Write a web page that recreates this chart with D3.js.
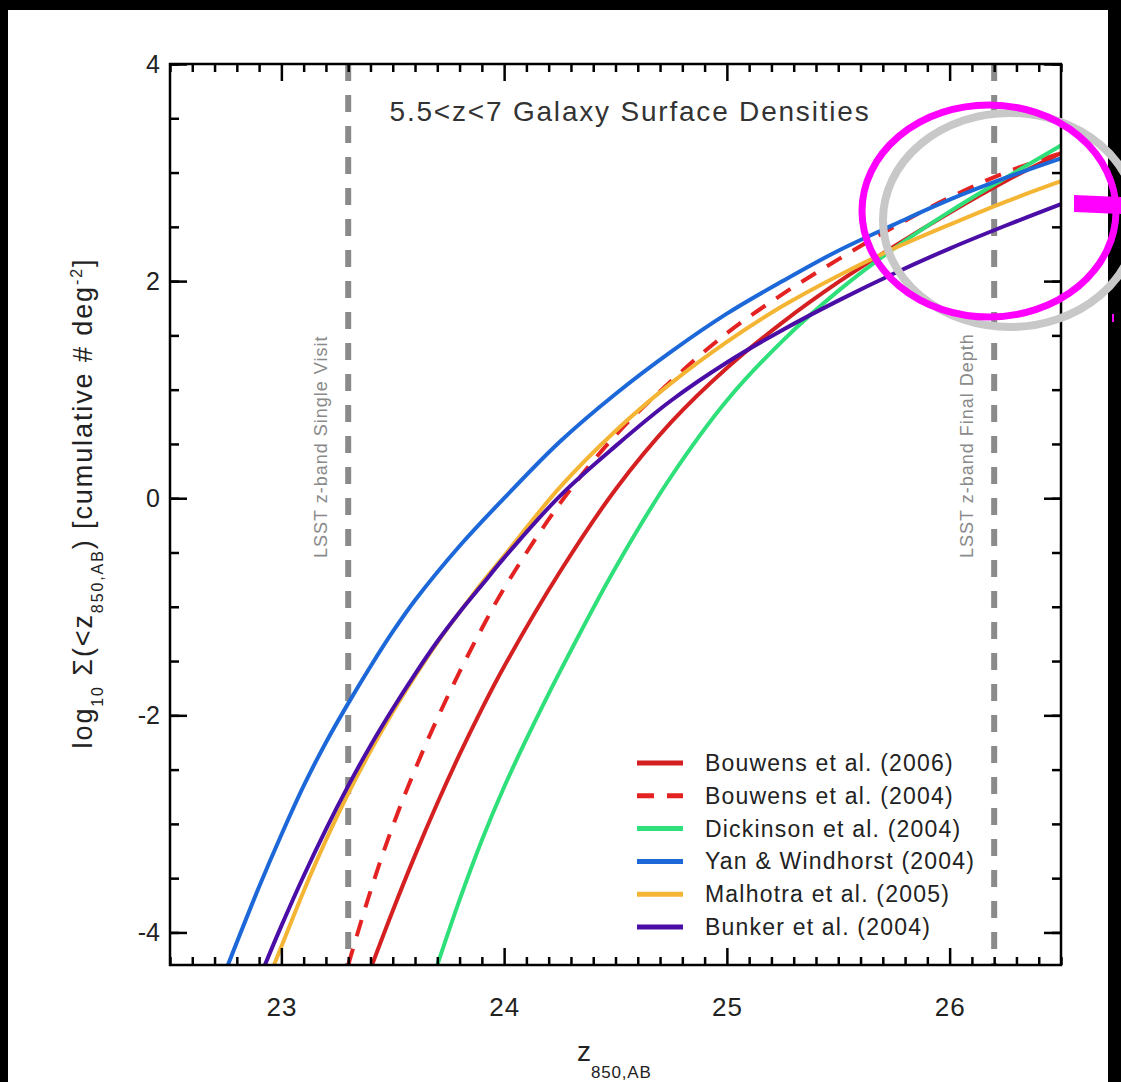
<!DOCTYPE html>
<html>
<head>
<meta charset="utf-8">
<script src="https://cdn.jsdelivr.net/npm/d3@7"></script>
<style>
  body { margin: 0; background: #000; }
  svg { display: block; }
  text { font-family: "Liberation Sans", Arial, Helvetica, sans-serif; }
</style>
</head>
<body>
<svg id="chart"></svg>
<script>
// values: magnitude z850 vs log10 cumulative counts per deg^2
const bouwens06Mag = [23.407, 23.5, 23.6, 23.7, 23.8, 23.9, 24.0, 24.25, 24.5, 24.75, 25.0, 25.25, 25.5, 25.75, 26.0, 26.25, 26.5];
const bouwens06Log = [-4.30, -3.80, -3.29, -2.81, -2.36, -1.94, -1.55, -0.68, 0.08, 0.70, 1.20, 1.62, 1.99, 2.32, 2.63, 2.92, 3.18];

const bouwens04Mag = [23.30, 23.4, 23.5, 23.6, 23.7, 23.8, 23.9, 24.0, 24.25, 24.5, 24.75, 25.0, 25.25, 25.5, 25.75, 26.0, 26.25, 26.5];
const bouwens04Log = [-4.30, -3.62, -3.02, -2.50, -2.03, -1.60, -1.20, -0.83, -0.05, 0.58, 1.08, 1.52, 1.88, 2.20, 2.50, 2.77, 3.00, 3.18];

const dickinsonMag = [23.70, 23.8, 23.9, 24.0, 24.1, 24.25, 24.5, 24.75, 25.0, 25.25, 25.5, 25.75, 26.0, 26.25, 26.5];
const dickinsonLog = [-4.30, -3.70, -3.15, -2.66, -2.22, -1.60, -0.64, 0.20, 0.90, 1.45, 1.91, 2.30, 2.64, 2.95, 3.25];

const yanMag = [22.76, 22.9, 23.0, 23.1, 23.2, 23.3, 23.4, 23.5, 23.6, 23.8, 24.0, 24.25, 24.5, 24.75, 25.0, 25.25, 25.5, 25.75, 26.0, 26.25, 26.5];
const yanLog = [-4.30, -3.58, -3.10, -2.65, -2.25, -1.89, -1.55, -1.23, -0.94, -0.44, 0.00, 0.52, 0.96, 1.35, 1.70, 2.00, 2.28, 2.52, 2.75, 2.95, 3.13];

const malhotraMag = [22.967, 23.0, 23.1, 23.2, 23.3, 23.4, 23.5, 23.6, 23.7, 23.8, 23.9, 24.0, 24.25, 24.5, 24.75, 25.0, 25.25, 25.5, 25.75, 26.0, 26.25, 26.5];
const malhotraLog = [-4.30, -4.13, -3.62, -3.15, -2.72, -2.33, -1.97, -1.64, -1.33, -1.05, -0.78, -0.53, 0.10, 0.62, 1.06, 1.44, 1.77, 2.05, 2.30, 2.52, 2.73, 2.92];

const bunkerMag = [22.926, 23.0, 23.1, 23.2, 23.3, 23.4, 23.5, 23.6, 23.7, 23.8, 23.9, 24.0, 24.25, 24.5, 24.75, 25.0, 25.25, 25.5, 25.75, 26.0, 26.25, 26.5];
const bunkerLog = [-4.30, -3.94, -3.48, -3.05, -2.65, -2.28, -1.94, -1.62, -1.32, -1.05, -0.80, -0.55, 0.02, 0.48, 0.90, 1.25, 1.55, 1.82, 2.07, 2.30, 2.51, 2.71];

const legendLabels = ['Bouwens et al. (2006)', 'Bouwens et al. (2004)', 'Dickinson et al. (2004)',
  'Yan & Windhorst (2004)', 'Malhotra et al. (2005)', 'Bunker et al. (2004)'];
const xMajorTicks = [23, 24, 25, 26];
const yMajorTicks = [-4, -2, 0, 2, 4];
const lsstDepths = [23.3, 26.2];
const lsstLabels = ['LSST z-band Single Visit', 'LSST z-band Final Depth'];
const title = '5.5<z<7 Galaxy Surface Densities';

const series = [
  { mag: bouwens06Mag, log: bouwens06Log, color: '#d42020', dash: null },
  { mag: bouwens04Mag, log: bouwens04Log, color: '#e52222', dash: '17,13' },
  { mag: dickinsonMag, log: dickinsonLog, color: '#2fe07a', dash: null },
  { mag: yanMag, log: yanLog, color: '#1c68d8', dash: null },
  { mag: malhotraMag, log: malhotraLog, color: '#f4b535', dash: null },
  { mag: bunkerMag, log: bunkerLog, color: '#4a0da6', dash: null }
];

const W = 1121, H = 1082;
const L = 170, R = 1061, T = 64, B = 965;

const svg = d3.select('#chart').attr('width', W).attr('height', H);

// white panel inside the black border
svg.append('rect').attr('x', 8).attr('y', 10).attr('width', 1100).attr('height', H - 10).attr('fill', '#fff');

const x = d3.scaleLinear().domain([22.5, 26.5]).range([L, R]);
const y = d3.scaleLinear().domain([-4.3, 4]).range([B, T]);

svg.append('clipPath').attr('id', 'plotClip')
  .append('rect').attr('x', L).attr('y', T).attr('width', R - L).attr('height', B - T);

// LSST depth lines
lsstDepths.forEach((m, i) => {
  svg.append('line')
    .attr('x1', x(m)).attr('x2', x(m))
    .attr('y1', T).attr('y2', B)
    .attr('stroke', '#8a8a8a')
    .attr('stroke-width', 6)
    .attr('stroke-dasharray', '17,14');
  svg.append('text')
    .attr('transform', `translate(${x(m) - 21},558) rotate(-90)`)
    .attr('text-anchor', 'start')
    .style('font-size', '18px')
    .style('letter-spacing', '1px')
    .style('fill', '#8a8a8a')
    .text(lsstLabels[i]);
});

// curves
const line = d3.line()
  .x((d) => x(d[0]))
  .y((d) => y(d[1]))
  .curve(d3.curveCatmullRom.alpha(0.5));

const curves = svg.append('g').attr('clip-path', 'url(#plotClip)');
series.forEach((s) => {
  curves.append('path')
    .datum(s.mag.map((m, i) => [m, s.log[i]]))
    .attr('d', line)
    .attr('fill', 'none')
    .attr('stroke', s.color)
    .attr('stroke-width', 4)
    .attr('stroke-dasharray', s.dash);
});

// axes, ticks pointing inward
const minorX = x.ticks(40).filter((d) => Math.abs(d - Math.round(d)) > 1e-6);
const minorY = y.ticks(16);

function styleAxis(g) {
  g.select('.domain').remove();
  g.selectAll('line').attr('stroke', '#000').attr('stroke-width', 2.5);
}

svg.append('g').attr('transform', `translate(0,${B})`)
  .call(d3.axisBottom(x).tickValues(minorX).tickSize(-8).tickSizeOuter(0).tickFormat(''))
  .call(styleAxis);
svg.append('g').attr('transform', `translate(0,${T})`)
  .call(d3.axisTop(x).tickValues(minorX).tickSize(-8).tickSizeOuter(0).tickFormat(''))
  .call(styleAxis);
svg.append('g').attr('transform', `translate(0,${B})`)
  .call(d3.axisBottom(x).tickValues(xMajorTicks).tickSize(-17).tickSizeOuter(0).tickPadding(33).tickFormat((d) => String(d)))
  .call(styleAxis)
  .selectAll('text').style('font-size', '26px').style('fill', '#222').style('letter-spacing', '1px');
svg.append('g').attr('transform', `translate(0,${T})`)
  .call(d3.axisTop(x).tickValues(xMajorTicks).tickSize(-17).tickSizeOuter(0).tickFormat(''))
  .call(styleAxis);

svg.append('g').attr('transform', `translate(${L},0)`)
  .call(d3.axisLeft(y).tickValues(minorY).tickSize(-9).tickSizeOuter(0).tickFormat(''))
  .call(styleAxis);
svg.append('g').attr('transform', `translate(${R},0)`)
  .call(d3.axisRight(y).tickValues(minorY).tickSize(-9).tickSizeOuter(0).tickFormat(''))
  .call(styleAxis);
svg.append('g').attr('transform', `translate(${L},0)`)
  .call(d3.axisLeft(y).tickValues(yMajorTicks).tickSize(-17).tickSizeOuter(0).tickPadding(10).tickFormat((d) => String(d)))
  .call(styleAxis)
  .selectAll('text').style('font-size', '25px').style('fill', '#222');
svg.append('g').attr('transform', `translate(${R},0)`)
  .call(d3.axisRight(y).tickValues(yMajorTicks).tickSize(-17).tickSizeOuter(0).tickFormat(''))
  .call(styleAxis);

svg.append('rect')
  .attr('x', L).attr('y', T).attr('width', R - L).attr('height', B - T)
  .attr('fill', 'none').attr('stroke', '#000').attr('stroke-width', 2.5);

// title
svg.append('text')
  .attr('x', 630).attr('y', 121)
  .attr('text-anchor', 'middle')
  .style('font-size', '28px')
  .style('letter-spacing', '1.8px')
  .style('fill', '#333')
  .text(title);

// legend
const legend = svg.append('g');
legendLabels.forEach((label, i) => {
  const ly = 763 + i * 32.8;
  legend.append('line')
    .attr('x1', 637).attr('x2', 683)
    .attr('y1', ly).attr('y2', ly)
    .attr('stroke', series[i].color)
    .attr('stroke-width', 5)
    .attr('stroke-dasharray', series[i].dash);
  legend.append('text')
    .attr('x', 705).attr('y', ly + 8)
    .style('font-size', '23px')
    .style('fill', '#222')
    .style('letter-spacing', '1.2px')
    .text(label);
});

// y axis title
const yTitle = svg.append('text')
  .attr('transform', 'translate(92,503) rotate(-90)')
  .attr('text-anchor', 'middle')
  .style('font-size', '27px')
  .style('letter-spacing', '1.9px')
  .style('fill', '#222');
yTitle.append('tspan').text('log');
yTitle.append('tspan').attr('dy', 11).style('font-size', '16px').text('10');
yTitle.append('tspan').attr('dy', -11).text(' \u03A3(<z');
yTitle.append('tspan').attr('dy', 11).style('font-size', '16px').text('850,AB');
yTitle.append('tspan').attr('dy', -11).text(') [cumulative # deg');
yTitle.append('tspan').attr('dy', -10).style('font-size', '16px').text('-2');
yTitle.append('tspan').attr('dy', 10).text(']');

// x axis title
const xTitle = svg.append('text')
  .attr('x', 577).attr('y', 1061)
  .style('font-size', '28px')
  .style('fill', '#222');
xTitle.append('tspan').text('z');
xTitle.append('tspan').attr('dy', 17).style('font-size', '17px').style('letter-spacing', '0.8px').text('850,AB');

// highlight marks drawn over the figure
svg.append('ellipse')
  .attr('cx', 1010).attr('cy', 220).attr('rx', 127).attr('ry', 107)
  .attr('fill', 'none').attr('stroke', '#c8c8c8').attr('stroke-width', 8);
svg.append('ellipse')
  .attr('cx', 989).attr('cy', 211).attr('rx', 127).attr('ry', 106)
  .attr('fill', 'none').attr('stroke', '#ff00ff').attr('stroke-width', 7);
svg.append('polygon')
  .attr('points', '1074,195 1121,197 1121,214 1074,212')
  .attr('fill', '#ff00ff');
svg.append('rect')
  .attr('x', 1112).attr('y', 314).attr('width', 2).attr('height', 8)
  .attr('fill', '#ff00ff');
</script>
</body>
</html>
